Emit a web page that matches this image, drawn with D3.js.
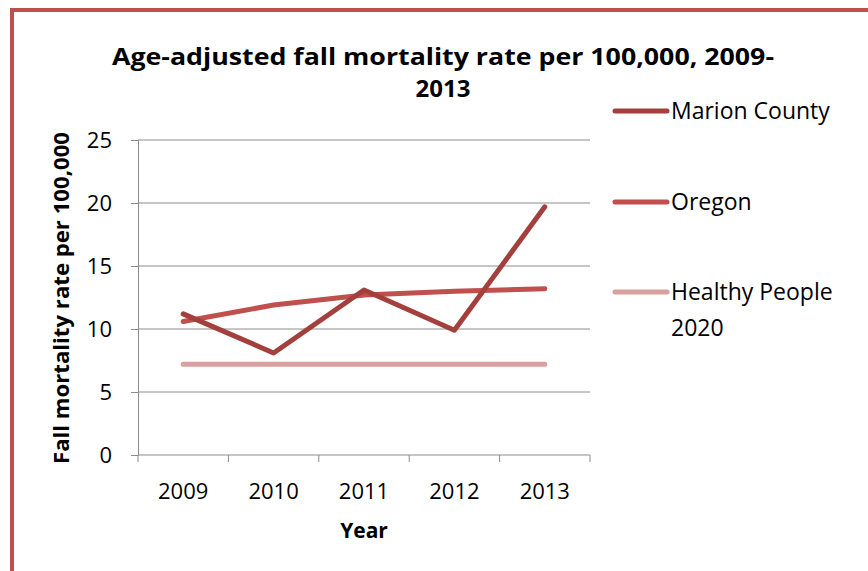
<!DOCTYPE html>
<html>
<head>
<meta charset="utf-8">
<script src="https://cdn.jsdelivr.net/npm/d3@7"></script>
<style>
  body { margin: 0; background: #fff; }
  svg { display: block; font-family: "Open Sans", sans-serif; }
</style>
</head>
<body>
<script>
var years = ["2009", "2010", "2011", "2012", "2013"];
var marion = [11.2, 8.1, 13.1, 9.9, 19.7];
var oregon = [10.6, 11.9, 12.7, 13.0, 13.2];
var healthy = [7.2, 7.2, 7.2, 7.2, 7.2];
var yTicks = [0, 5, 10, 15, 20, 25];
var seriesNames = ["Marion County", "Oregon", "Healthy People 2020"];
var seriesColors = ["#A33F3C", "#C0504D", "#D9A09E"];

var width = 868, height = 571;
var plotLeft = 138, plotRight = 590, plotTop = 140, plotBottom = 455;

var svg = d3.select("body").append("svg")
  .attr("width", width)
  .attr("height", height);

// outer border
svg.append("rect")
  .attr("x", 12).attr("y", 10)
  .attr("width", 900).attr("height", 600)
  .attr("fill", "none")
  .attr("stroke", "#C0504D")
  .attr("stroke-width", 4);

var x = d3.scaleBand().domain(years).range([plotLeft, plotRight]);
var y = d3.scaleLinear().domain([0, 25]).range([plotBottom, plotTop]);

// gridlines
svg.selectAll("line.grid")
  .data(yTicks.slice(1))
  .enter()
  .append("line")
  .attr("class", "grid")
  .attr("x1", plotLeft).attr("x2", plotRight)
  .attr("y1", function(d) { return y(d); })
  .attr("y2", function(d) { return y(d); })
  .attr("stroke", "#8c8c8c")
  .attr("stroke-width", 1);

var yAxis = svg.append("g")
  .attr("transform", "translate(" + plotLeft + ",0)")
  .call(d3.axisLeft(y).tickValues(yTicks).tickSize(7).tickPadding(19));
yAxis.select(".domain").attr("stroke", "#8c8c8c");
yAxis.selectAll(".tick line").attr("stroke", "#8c8c8c");
yAxis.selectAll("text")
  .attr("font-size", 22).attr("fill", "#000")
  .attr("font-family", "'Open Sans', sans-serif");

// x axis with ticks at category boundaries
var xAxisG = svg.append("g").attr("transform", "translate(0," + plotBottom + ")");
xAxisG.append("line")
  .attr("x1", plotLeft).attr("x2", plotRight)
  .attr("stroke", "#8c8c8c");
var bounds = years.map(function(d) { return x(d); }).concat([plotRight]);
xAxisG.selectAll("line.tk")
  .data(bounds)
  .enter()
  .append("line")
  .attr("class", "tk")
  .attr("x1", function(d) { return d; })
  .attr("x2", function(d) { return d; })
  .attr("y1", 0).attr("y2", 7)
  .attr("stroke", "#8c8c8c");
xAxisG.selectAll("text")
  .data(years)
  .enter()
  .append("text")
  .attr("x", function(d) { return x(d) + x.bandwidth() / 2; })
  .attr("y", 44)
  .attr("text-anchor", "middle")
  .attr("font-size", 22)
  .text(function(d) { return d; });

// lines
var line = d3.line()
  .x(function(d, i) { return x(years[i]) + x.bandwidth() / 2; })
  .y(function(d) { return y(d); });

[healthy, oregon, marion].forEach(function(s, k) {
  var idx = 2 - k;
  svg.append("path")
    .datum(s)
    .attr("d", line)
    .attr("fill", "none")
    .attr("stroke", seriesColors[idx])
    .attr("stroke-width", 5)
    .attr("stroke-linecap", "round")
    .attr("stroke-linejoin", "round");
});

// title
svg.append("text")
  .attr("x", 443).attr("y", 65)
  .attr("text-anchor", "middle")
  .attr("font-size", 24).attr("font-weight", "bold")
  .attr("textLength", 662).attr("lengthAdjust", "spacingAndGlyphs")
  .text("Age-adjusted fall mortality rate per 100,000, 2009-");
svg.append("text")
  .attr("x", 443).attr("y", 97)
  .attr("text-anchor", "middle")
  .attr("font-size", 24).attr("font-weight", "bold")
  .text("2013");

// axis titles
svg.append("text")
  .attr("transform", "translate(69,298) rotate(-90)")
  .attr("text-anchor", "middle")
  .attr("font-size", 22).attr("font-weight", "bold")
  .attr("textLength", 332).attr("lengthAdjust", "spacingAndGlyphs")
  .text("Fall mortality rate per 100,000");
svg.append("text")
  .attr("x", 364).attr("y", 538)
  .attr("text-anchor", "middle")
  .attr("font-size", 21).attr("font-weight", "bold")
  .text("Year");

// legend
var legendY = [111, 202, 292];
var legend = svg.selectAll("g.leg")
  .data(seriesNames)
  .enter()
  .append("g")
  .attr("class", "leg")
  .attr("transform", function(d, i) { return "translate(0," + legendY[i] + ")"; });
legend.append("line")
  .attr("x1", 615).attr("x2", 667)
  .attr("stroke", function(d, i) { return seriesColors[i]; })
  .attr("stroke-width", 5)
  .attr("stroke-linecap", "round");
legend.append("text")
  .attr("x", 671).attr("y", 8)
  .attr("font-size", 23)
  .each(function(d) {
    var t = d3.select(this);
    if (d === "Healthy People 2020") {
      t.append("tspan").attr("x", 671).text("Healthy People");
      t.append("tspan").attr("x", 671).attr("dy", 36).text("2020");
    } else {
      t.text(d);
    }
  });
</script>
</body>
</html>
